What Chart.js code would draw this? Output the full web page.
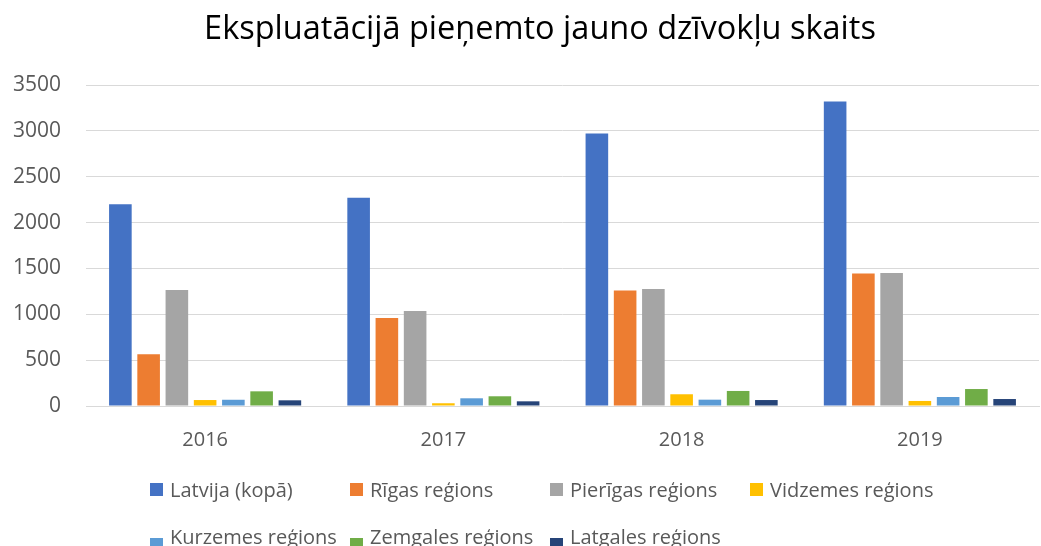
<!DOCTYPE html>
<html>
<head>
<meta charset="utf-8">
<script src="https://cdn.jsdelivr.net/npm/chart.js@4.4.1/dist/chart.umd.min.js"></script>
<style>
  html, body { margin: 0; padding: 0; background: #ffffff; }
  #wrap { width: 1041px; height: 546px; }
</style>
</head>
<body>
<div id="wrap"><canvas id="chart"></canvas></div>
<script>
const titleText = "Ekspluatācijā pieņemto jauno dzīvokļu skaits";
const years = ["2016", "2017", "2018", "2019"];
const seriesNames = ["Latvija (kopā)", "Rīgas reģions", "Pierīgas reģions", "Vidzemes reģions",
  "Kurzemes reģions", "Zemgales reģions", "Latgales reģions"];
const latvija = [2200, 2270, 2970, 3320];
const rigas = [565, 960, 1260, 1445];
const pierigas = [1265, 1035, 1275, 1450];
const vidzemes = [65, 30, 128, 55];
const kurzemes = [68, 84, 69, 98];
const zemgales = [160, 106, 164, 185];
const latgales = [62, 51, 65, 76];
const colors = ["#4472C4", "#ED7D31", "#A5A5A5", "#FFC000", "#5B9BD5", "#70AD47", "#264478"];
const yTicks = [0, 500, 1000, 1500, 2000, 2500, 3000, 3500];

const FONT = "'Open Sans', sans-serif";
const allValues = [latvija, rigas, pierigas, vidzemes, kurzemes, zemgales, latgales];

// Title (sits a bit right of the canvas centre) and a legend on a fixed grid
const excelDecor = {
  id: "excelDecor",
  afterDraw(chart) {
    const ctx = chart.ctx;
    ctx.save();
    ctx.fillStyle = "#000000";
    ctx.font = "32.5px " + FONT;
    ctx.textAlign = "center";
    ctx.textBaseline = "middle";
    ctx.fillText(titleText, 540, 30);

    ctx.font = "20px " + FONT;
    ctx.textAlign = "left";
    ctx.textBaseline = "alphabetic";
    const rows = [[483, 497], [538, 544]]; // box top, text baseline
    chart.data.datasets.forEach((ds, i) => {
      const col = i < 4 ? i : i - 4;
      const row = i < 4 ? 0 : 1;
      const x = 150 + col * 200;
      ctx.fillStyle = ds.backgroundColor;
      ctx.fillRect(x, rows[row][0], 13, 13);
      ctx.fillStyle = "#595959";
      ctx.fillText(ds.label, x + 20, rows[row][1]);
    });
    ctx.restore();
  }
};

new Chart(document.getElementById("chart"), {
  type: "bar",
  data: {
    labels: years,
    datasets: seriesNames.map((name, i) => ({
      label: name,
      data: allValues[i],
      backgroundColor: colors[i],
      borderWidth: 0,
      barPercentage: 0.8,
      categoryPercentage: 0.83
    }))
  },
  options: {
    responsive: true,
    maintainAspectRatio: false,
    animation: false,
    layout: { padding: { left: 0, right: 2, top: 85, bottom: 90 } },
    plugins: {
      legend: { display: false },
      tooltip: { enabled: false },
      title: { display: false }
    },
    scales: {
      x: {
        grid: { display: false },
        border: { color: "#D9D9D9", width: 1 },
        ticks: { color: "#595959", font: { family: FONT, size: 20 }, padding: 14 },
        afterFit(scale) { scale.height = 50; }
      },
      y: {
        min: 0,
        max: 3500,
        afterBuildTicks(scale) { scale.ticks = yTicks.map(v => ({ value: v })); },
        grid: { color: "#D9D9D9", drawTicks: false },
        border: { display: false },
        ticks: {
          color: "#595959",
          font: { family: FONT, size: 21 },
          padding: 25,
          callback: v => String(v)
        },
        afterFit(scale) { scale.width = 86; }
      }
    }
  },
  plugins: [excelDecor]
});
</script>
</body>
</html>
